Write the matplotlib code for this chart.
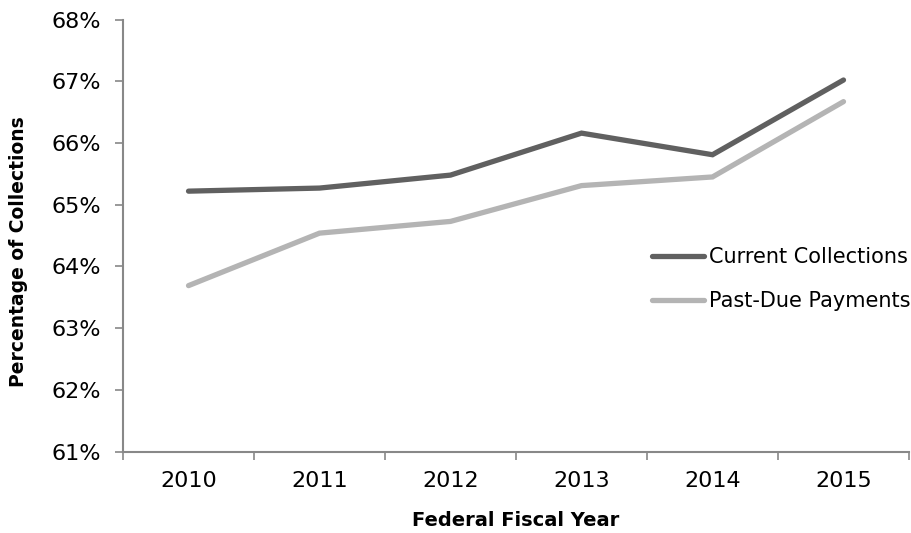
import matplotlib.pyplot as plt
from matplotlib.ticker import FixedLocator, FuncFormatter

plt.rcParams['font.family'] = ['DejaVu Sans']

years = ['2010', '2011', '2012', '2013', '2014', '2015']
current_collections = [65.22, 65.27, 65.48, 66.16, 65.81, 67.02]
past_due_payments = [63.69, 64.54, 64.73, 65.31, 65.45, 66.67]
y_ticks = [61, 62, 63, 64, 65, 66, 67, 68]

fig = plt.figure(figsize=(9.12, 5.33), dpi=100)
ax = fig.add_axes([0.1349, 0.1525, 0.8618, 0.8109])

x = list(range(len(years)))
ax.plot(x, current_collections, color='#606060', linewidth=3.8,
        solid_capstyle='round', solid_joinstyle='miter', label='Current Collections')
ax.plot(x, past_due_payments, color='#b4b4b4', linewidth=3.8,
        solid_capstyle='round', solid_joinstyle='miter', label='Past-Due Payments')

ax.set_xlim(-0.5, len(years) - 0.5)
ax.set_ylim(61, 68)
ax.set_yticks(y_ticks)
ax.yaxis.set_major_formatter(FuncFormatter(lambda v, p: f'{v:.0f}%'))

# category labels at centres, tick marks between categories
ax.set_xticks(x)
ax.set_xticklabels(years)
ax.xaxis.set_minor_locator(FixedLocator([i - 0.5 for i in range(len(years) + 1)]))
ax.tick_params(axis='x', which='major', length=0, pad=14, labelsize=16)
ax.tick_params(axis='x', which='minor', length=6, color='#888888', width=1.2)
ax.tick_params(axis='y', length=6, color='#888888', width=1.2, pad=10, labelsize=16)

for side in ['top', 'right']:
    ax.spines[side].set_visible(False)
for side in ['left', 'bottom']:
    ax.spines[side].set_color('#888888')
    ax.spines[side].set_linewidth(1.5)

ax.set_ylabel('Percentage of Collections', fontsize=13.5, fontweight='bold', va='center')
ax.yaxis.set_label_coords(-0.1336, 0.464)
ax.set_xlabel('Federal Fiscal Year', fontsize=14, fontweight='bold', va='center')
ax.xaxis.set_label_coords(0.5, -0.16)

ax.legend(loc='center left', bbox_to_anchor=(0.6735, 0.400), frameon=False,
          fontsize=15, handlelength=2.5, handletextpad=0.2, labelspacing=1.15,
          borderaxespad=0, borderpad=0)

fig.savefig('out.png', dpi=100, facecolor='white')
